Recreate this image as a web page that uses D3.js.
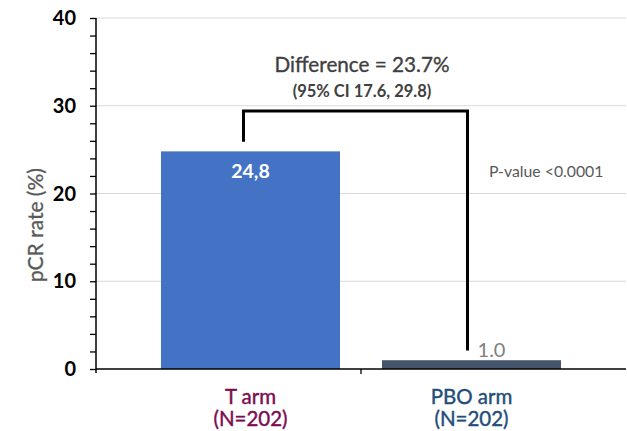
<!DOCTYPE html>
<html>
<head>
<meta charset="utf-8">
<script src="https://cdn.jsdelivr.net/npm/d3@7"></script>
<style>
  body { margin: 0; background: #fff; }
  svg { display: block; font-family: Lato, "Open Sans", sans-serif; }
</style>
</head>
<body>
<svg id="chart" width="627" height="431"></svg>
<script>
// Pathological complete response rate by treatment arm
const categories = ["T arm", "PBO arm"];
const sampleSizes = ["(N=202)", "(N=202)"];
const rates = [24.8, 1.0];
const rateLabels = ["24,8", "1.0"];
const yTicks = [0, 10, 20, 30, 40];
const differenceText = "Difference = 23.7%";
const ciText = "(95% CI 17.6, 29.8)";
const pValueText = "P-value <0.0001";
const bracketLevel = 29.4;
const bracketGap = 1.1;

const barColors = ["#4472c4", "#44546a"];
const labelColors = ["#7b0c50", "#1f4e79"];

const svg = d3.select("#chart");

const y = d3.scaleLinear().domain([0, 40]).range([369, 18]);
const x = d3.scaleBand().domain(categories).range([140, 582]).paddingInner(0.19).paddingOuter(0.095);
const axisLeftX = 96;

// horizontal gridlines
svg.append("g").selectAll("line").data(yTicks.filter(d => d > 0)).join("line")
  .attr("x1", axisLeftX).attr("x2", 626)
  .attr("y1", d => y(d)).attr("y2", d => y(d))
  .attr("stroke", "#d9d9d9").attr("stroke-width", 1);

// bars
svg.append("g").selectAll("rect").data(rates).join("rect")
  .attr("x", (d, i) => x(categories[i]))
  .attr("width", x.bandwidth())
  .attr("y", d => y(d))
  .attr("height", d => y(0) - y(d))
  .attr("fill", (d, i) => barColors[i]);

// y axis with minor ticks
const yAxis = d3.axisLeft(y).tickValues(d3.range(0, 41, 2)).tickSize(6).tickFormat("");
const gy = svg.append("g").attr("transform", `translate(${axisLeftX},0)`).call(yAxis);
gy.select(".domain").attr("d", `M0,${y(40)}V${y(0) + 4}`).attr("stroke", "#000").attr("stroke-width", 1.5);
gy.selectAll(".tick line").attr("stroke", "#000").attr("stroke-width", 1.3);

svg.append("g").selectAll("text").data(yTicks).join("text")
  .attr("x", 76).attr("y", d => y(d)).attr("dy", "0.36em")
  .attr("text-anchor", "end")
  .attr("font-size", 20).attr("font-weight", "bold").attr("fill", "#000")
  .text(d => d);

// x axis baseline and category divider
svg.append("line").attr("x1", axisLeftX).attr("x2", 626)
  .attr("y1", y(0)).attr("y2", y(0)).attr("stroke", "#000").attr("stroke-width", 1.5);
const divider = x(categories[1]) - x.step() * x.paddingInner() / 2;
svg.append("line").attr("x1", divider).attr("x2", divider)
  .attr("y1", y(0)).attr("y2", y(0) + 5).attr("stroke", "#000").attr("stroke-width", 1.3);

// y axis title
svg.append("text")
  .attr("transform", `translate(43,${y(16.4)}) rotate(-90)`)
  .attr("text-anchor", "middle")
  .attr("font-size", 21).attr("fill", "#595959")
  .attr("stroke", "#595959").attr("stroke-width", 0.3)
  .text("pCR rate (%)");

// category labels
const catG = svg.append("g").selectAll("g").data(categories).join("g")
  .attr("transform", d => `translate(${x(d) + x.bandwidth() / 2},0)`);
catG.append("text").attr("y", 404).attr("text-anchor", "middle")
  .attr("font-size", 20.5).attr("fill", (d, i) => labelColors[i])
  .attr("stroke", (d, i) => labelColors[i]).attr("stroke-width", 0.4).text(d => d);
catG.append("text").attr("y", 426).attr("text-anchor", "middle")
  .attr("font-size", 20.5).attr("fill", (d, i) => labelColors[i])
  .attr("stroke", (d, i) => labelColors[i]).attr("stroke-width", 0.4).text((d, i) => sampleSizes[i]);

// value labels
const cx0 = x(categories[0]) + x.bandwidth() / 2;
const cx1 = x(categories[1]) + x.bandwidth() / 2;
svg.append("text").attr("x", cx0).attr("y", y(rates[0]) + 27)
  .attr("text-anchor", "middle").attr("font-size", 19.5).attr("font-weight", "bold")
  .attr("fill", "#fff").text(rateLabels[0]);
svg.append("text").attr("x", cx1 + 20).attr("y", y(rates[1]) - 3)
  .attr("text-anchor", "middle").attr("font-size", 20)
  .attr("fill", "#7f7f7f").text(rateLabels[1]);

// comparison bracket
const bracketLeftX = cx0 - 7;
const bracketRightX = cx1 - 4;
svg.append("path")
  .attr("d", `M${bracketLeftX},${y(rates[0] + bracketGap)}V${y(bracketLevel)}H${bracketRightX}V${y(rates[1] + bracketGap)}`)
  .attr("fill", "none").attr("stroke", "#000").attr("stroke-width", 3);

svg.append("text").attr("x", 362).attr("y", 72).attr("text-anchor", "middle")
  .attr("font-size", 20.7).attr("fill", "#404040")
  .attr("stroke", "#404040").attr("stroke-width", 0.35).text(differenceText);
svg.append("text").attr("x", 362).attr("y", 97).attr("text-anchor", "middle")
  .attr("font-size", 16.5).attr("font-weight", "bold").attr("fill", "#404040").text(ciText);
svg.append("text").attr("x", 489).attr("y", 177)
  .attr("font-size", 15.8).attr("fill", "#595959").text(pValueText);
</script>
</body>
</html>
